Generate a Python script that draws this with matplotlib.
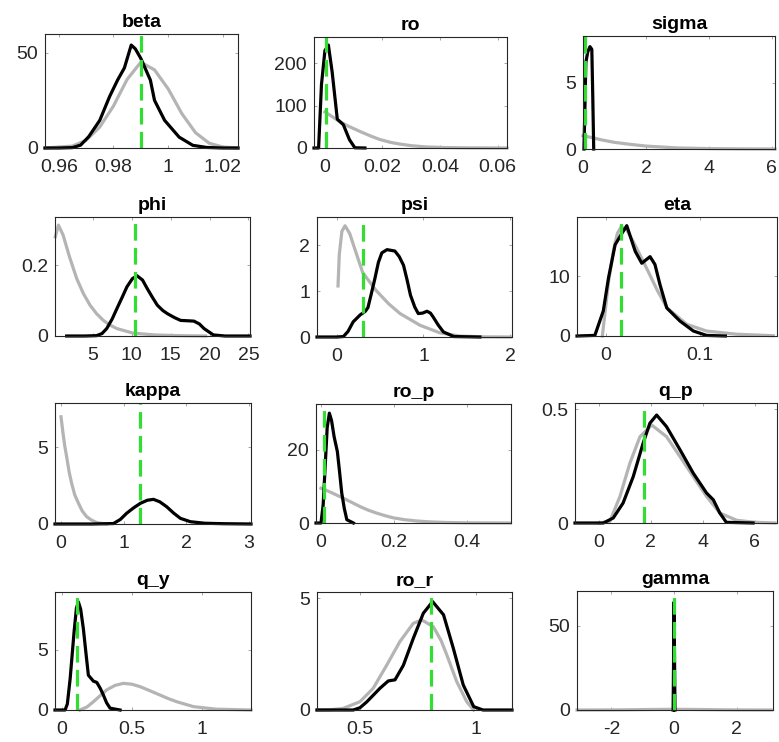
import matplotlib
matplotlib.use("Agg")
import matplotlib.pyplot as plt

plt.rcParams['font.family'] = ['Liberation Sans', 'DejaVu Sans']

# ---- data (prior = grey, posterior = black, mode = green) ----
names = ['beta', 'ro', 'sigma', 'phi', 'psi', 'eta',
         'kappa', 'ro_p', 'q_p', 'q_y', 'ro_r', 'gamma']

beta_prior_x = [0.955, 0.965, 0.970, 0.975, 0.980, 0.985, 0.990, 0.995, 1.000, 1.005, 1.010, 1.015, 1.020, 1.0255]
beta_prior_y = [0, 1, 4, 11, 22, 36, 45, 41, 31, 18, 8, 2.5, 0.5, 0]
beta_post_x = [0.955, 0.960, 0.965, 0.968, 0.971, 0.975, 0.9786, 0.9815, 0.984, 0.9865, 0.988, 0.990,
               0.9935, 0.995, 0.9987, 1.004, 1.009, 1.014, 1.020, 1.0255]
beta_post_y = [0, 0, 0.2, 1.5, 6, 14.5, 27, 35.6, 42, 54, 52, 47, 35.6, 25, 14.5, 5.7, 1.4, 0.3, 0, 0]
beta_mode = 0.990

ro_prior_x = [0, 0.003, 0.0052, 0.008, 0.0122, 0.016, 0.0191, 0.023, 0.026, 0.030, 0.0353, 0.042, 0.05, 0.0633]
ro_prior_y = [85, 72, 62, 52, 39, 28, 20, 13, 9.4, 5.5, 2.5, 1, 0.3, 0]
ro_post_x = [-0.0038, -0.0022, -0.0012, 0.0, 0.0012, 0.0025, 0.0043, 0.0064, 0.0085, 0.0104, 0.0139]
ro_post_y = [0, 0, 150, 230, 243, 180, 68, 55, 20, 0.5, 0]
ro_mode = 0.0005

sigma_prior_x = [0.0, 0.3, 0.6, 1.0, 1.5, 2.0, 3.0, 4.0, 5.0, 6.1]
sigma_prior_y = [1.0, 0.85, 0.68, 0.5, 0.35, 0.22, 0.08, 0.03, 0.01, 0]
sigma_post_x = [0.03, 0.06, 0.09, 0.15, 0.22, 0.28, 0.31, 0.34]
sigma_post_y = [0, 3, 6.5, 7.3, 7.7, 7.5, 4, 0]
sigma_mode = 0.05

phi_prior_x = [0.2, 0.6, 1.2, 2.0, 2.95, 3.8, 4.66, 5.5, 6.37, 7.2, 8.1, 10.2, 13, 16, 19.5]
phi_prior_y = [0.28, 0.313, 0.285, 0.225, 0.162, 0.12, 0.087, 0.063, 0.044, 0.031, 0.021, 0.008, 0.003, 0.001, 0]
phi_post_x = [1.66, 4.0, 5.5, 6.2, 6.8, 7.5, 8.1, 8.8, 9.4, 10.1, 10.7, 11.4, 12.0, 12.7, 13.3, 14.0,
              14.6, 15.5, 16.3, 17.2, 18.0, 18.7, 19.3, 20.5, 22, 25.2]
phi_post_y = [0, 0, 0.001, 0.007, 0.021, 0.048, 0.077, 0.11, 0.139, 0.162, 0.17, 0.158, 0.134, 0.108,
              0.087, 0.072, 0.063, 0.052, 0.044, 0.043, 0.042, 0.034, 0.021, 0.003, 0, 0]
phi_mode = 10.4

psi_prior_x = [0.015, 0.03, 0.06, 0.096, 0.15, 0.22, 0.30, 0.45, 0.60, 0.73, 0.96, 1.19, 1.42, 1.7, 2.0]
psi_prior_y = [1.11, 1.8, 2.3, 2.42, 2.25, 1.85, 1.4, 1.02, 0.72, 0.51, 0.255, 0.09, 0.02, 0.003, 0]
psi_post_x = [-0.227, 0.0, 0.077, 0.13, 0.19, 0.27, 0.33, 0.36, 0.40, 0.44, 0.48, 0.52, 0.58, 0.67,
              0.72, 0.77, 0.81, 0.85, 0.90, 0.94, 0.99, 1.04, 1.08, 1.11, 1.17, 1.23, 1.35, 1.65]
psi_post_y = [0, 0, 0.01, 0.12, 0.33, 0.48, 0.56, 0.64, 0.95, 1.27, 1.62, 1.83, 1.9, 1.87,
              1.75, 1.56, 1.25, 0.91, 0.65, 0.51, 0.52, 0.56, 0.52, 0.44, 0.26, 0.11, 0.01, 0]
psi_mode = 0.30

eta_prior_x = [-0.004, 0.0025, 0.008, 0.012, 0.016, 0.022, 0.030, 0.043, 0.055, 0.065, 0.086, 0.107, 0.139, 0.178]
eta_prior_y = [0, 9, 14.5, 17.2, 18.3, 17.8, 15.5, 11.4, 7.5, 4.7, 1.95, 0.83, 0.3, 0.05]
eta_post_x = [-0.031, -0.012, -0.003, 0.0025, 0.0096, 0.016, 0.022, 0.031, 0.038, 0.0468, 0.052,
              0.0574, 0.0646, 0.0787, 0.093, 0.107, 0.127]
eta_post_y = [0, 0.1, 4.2, 9.7, 15.3, 17, 18.5, 14.2, 12.2, 13.3, 12, 8.6, 4.7, 2.5, 0.83, 0.1, 0]
eta_mode = 0.0156

kappa_prior_x = [0.0, 0.03, 0.06, 0.09, 0.13, 0.17, 0.22, 0.28, 0.34, 0.41, 0.49, 0.57, 0.65, 0.73]
kappa_prior_y = [7.0, 6.0, 5.1, 4.4, 3.4, 2.66, 1.9, 1.35, 0.85, 0.48, 0.25, 0.1, 0.04, 0]
kappa_post_x = [-0.096, 0.5, 0.84, 0.95, 1.05, 1.16, 1.27, 1.38, 1.48, 1.58, 1.69, 1.80, 1.91, 2.07, 2.3, 2.6, 3.04]
kappa_post_y = [0, 0, 0.03, 0.3, 0.7, 1.05, 1.35, 1.55, 1.61, 1.45, 1.13, 0.72, 0.37, 0.15, 0.05, 0.02, 0]
kappa_mode = 1.27

ro_p_prior_x = [0.0, 0.011, 0.035, 0.061, 0.085, 0.107, 0.13, 0.153, 0.176, 0.199, 0.23, 0.263,
                0.30, 0.34, 0.40, 0.46, 0.52]
ro_p_prior_y = [9.5, 9.1, 8.0, 6.8, 5.6, 4.5, 3.5, 2.7, 2.0, 1.4, 0.9, 0.55, 0.3, 0.15, 0.05, 0.02, 0]
ro_p_post_x = [-0.0137, 0.0, 0.006, 0.011, 0.017, 0.023, 0.029, 0.036, 0.045, 0.051, 0.057, 0.064, 0.071, 0.089]
ro_p_post_y = [0, 0, 5, 14.5, 26, 30, 28, 23.6, 19.5, 14, 8.2, 4, 0.9, 0]
ro_p_mode = 0.008

q_p_prior_x = [0.0, 0.42, 0.81, 1.19, 1.58, 2.03, 2.6, 3.12, 3.63, 4.14, 4.65, 5.3, 6.0, 6.77]
q_p_prior_y = [0, 0.007, 0.117, 0.263, 0.38, 0.431, 0.38, 0.292, 0.204, 0.117, 0.044, 0.012, 0.003, 0]
q_p_post_x = [-0.92, 0.17, 0.55, 0.93, 1.32, 1.7, 1.96, 2.22, 2.6, 3.12, 3.63, 4.14, 4.4, 4.65, 4.9, 5.93]
q_p_post_y = [0, 0, 0.022, 0.088, 0.204, 0.351, 0.439, 0.475, 0.424, 0.322, 0.219, 0.132, 0.102, 0.044, 0.003, 0]
q_p_mode = 1.74

q_y_prior_x = [0.13, 0.18, 0.226, 0.27, 0.32, 0.38, 0.44, 0.50, 0.56, 0.63, 0.70, 0.76, 0.82, 0.94, 1.1, 1.35]
q_y_prior_y = [0, 0.25, 0.69, 1.15, 1.67, 2.05, 2.22, 2.15, 1.94, 1.6, 1.25, 0.95, 0.69, 0.28, 0.07, 0]
q_y_post_x = [-0.048, 0.024, 0.04, 0.06, 0.088, 0.105, 0.119, 0.135, 0.154, 0.175, 0.19, 0.226,
              0.25, 0.275, 0.297, 0.32, 0.345, 0.416]
q_y_post_y = [0, 0, 0.5, 2.6, 6.5, 8.5, 9.0, 8.4, 6.8, 4.5, 2.9, 2.4, 2.3, 1.8, 1.25, 0.6, 0.15, 0]
q_y_mode = 0.112

ro_r_prior_x = [0.315, 0.37, 0.427, 0.5, 0.557, 0.615, 0.672, 0.73, 0.766, 0.816, 0.85, 0.874, 0.917, 0.96, 0.99]
ro_r_prior_y = [0.0, 0.01, 0.07, 0.37, 0.97, 2.0, 3.06, 3.88, 4.03, 3.73, 3.1, 2.47, 1.27, 0.37, 0]
ro_r_post_x = [0.315, 0.471, 0.50, 0.53, 0.586, 0.622, 0.651, 0.687, 0.73, 0.773, 0.813, 0.86,
               0.902, 0.945, 0.99, 1.03, 1.155]
ro_r_post_y = [0, 0, 0.1, 0.37, 0.97, 1.3, 1.35, 2.0, 3.21, 4.33, 4.85, 4.26, 2.77, 1.12, 0.15, 0, 0]
ro_r_mode = 0.806

gamma_prior_x = [-3.1, -2.5, -2, -1.5, -1, -0.5, 0, 0.5, 1, 1.5, 2, 2.5, 3.1]
gamma_prior_y = [0.003, 0.018, 0.054, 0.13, 0.24, 0.35, 0.4, 0.35, 0.24, 0.13, 0.054, 0.018, 0.003]
gamma_post_x = [-0.03, -0.01, 0.0, 0.01, 0.03]
gamma_post_y = [0, 40, 64, 40, 0]
gamma_mode = 0.0

priors_x = [beta_prior_x, ro_prior_x, sigma_prior_x, phi_prior_x, psi_prior_x, eta_prior_x,
            kappa_prior_x, ro_p_prior_x, q_p_prior_x, q_y_prior_x, ro_r_prior_x, gamma_prior_x]
priors_y = [beta_prior_y, ro_prior_y, sigma_prior_y, phi_prior_y, psi_prior_y, eta_prior_y,
            kappa_prior_y, ro_p_prior_y, q_p_prior_y, q_y_prior_y, ro_r_prior_y, gamma_prior_y]
posts_x = [beta_post_x, ro_post_x, sigma_post_x, phi_post_x, psi_post_x, eta_post_x,
           kappa_post_x, ro_p_post_x, q_p_post_x, q_y_post_x, ro_r_post_x, gamma_post_x]
posts_y = [beta_post_y, ro_post_y, sigma_post_y, phi_post_y, psi_post_y, eta_post_y,
           kappa_post_y, ro_p_post_y, q_p_post_y, q_y_post_y, ro_r_post_y, gamma_post_y]
modes = [beta_mode, ro_mode, sigma_mode, phi_mode, psi_mode, eta_mode,
         kappa_mode, ro_p_mode, q_p_mode, q_y_mode, ro_r_mode, gamma_mode]

xlims = [(0.955, 1.0255), (-0.0038, 0.0633), (0, 6.1), (0.16, 25.2), (-0.227, 2.02), (-0.031, 0.182),
         (-0.096, 3.04), (-0.0137, 0.522), (-0.92, 6.85), (-0.048, 1.35), (0.315, 1.155), (-3.1, 3.16)]
ylims = [59.8, 262, 8.5, 0.336, 2.61, 19.95, 7.9, 32.5, 0.528, 9.83, 5.28, 70.6]

xticks = [[0.96, 0.98, 1, 1.02], [0, 0.02, 0.04, 0.06], [0, 2, 4, 6], [5, 10, 15, 20, 25], [0, 1, 2],
          [0, 0.1], [0, 1, 2, 3], [0, 0.2, 0.4], [0, 2, 4, 6], [0, 0.5, 1], [0.5, 1], [-2, 0, 2]]
xticklabels = [['0.96', '0.98', '1', '1.02'], ['0', '0.02', '0.04', '0.06'], ['0', '2', '4', '6'],
               ['5', '10', '15', '20', '25'], ['0', '1', '2'], ['0', '0.1'], ['0', '1', '2', '3'],
               ['0', '0.2', '0.4'], ['0', '2', '4', '6'], ['0', '0.5', '1'], ['0.5', '1'], ['-2', '0', '2']]
yticks = [[0, 50], [0, 100, 200], [0, 5], [0, 0.2], [0, 1, 2], [0, 10], [0, 5], [0, 20],
          [0, 0.5], [0, 5], [0, 5], [0, 50]]
yticklabels = [['0', '50'], ['0', '100', '200'], ['0', '5'], ['0', '0.2'], ['0', '1', '2'], ['0', '10'],
               ['0', '5'], ['0', '20'], ['0', '0.5'], ['0', '5'], ['0', '5'], ['0', '50']]

# axes boxes in pixels: left, right, top, bottom
boxes = [(45, 238, 34, 148), (314, 507, 37, 148), (583, 775, 36, 149),
         (55, 250, 217, 336), (317, 512, 217, 337), (577, 777, 217, 336),
         (55, 251, 403, 524), (316, 511, 404, 523), (575, 777, 403, 523),
         (55, 251, 592, 710), (317, 512, 592, 710), (577, 773, 591, 710)]

W, H = 779, 742
fig = plt.figure(figsize=(W / 100, H / 100), dpi=100)

for i in range(12):
    l, r, t, b = boxes[i]
    ax = fig.add_axes([l / W, 1 - b / H, (r - l) / W, (b - t) / H])
    ax.plot(priors_x[i], priors_y[i], color='#b4b4b4', lw=2.3, clip_on=False)
    ax.plot(posts_x[i], posts_y[i], color='black', lw=2.3, clip_on=False)
    ax.plot([modes[i], modes[i]], [0, ylims[i]], color='#33dd33', lw=2.3,
            linestyle=(0, (5.2, 2.3)), clip_on=False)
    ax.set_xlim(xlims[i])
    ax.set_ylim(0, ylims[i])
    ax.set_xticks(xticks[i])
    ax.set_xticklabels(xticklabels[i])
    ax.set_yticks(yticks[i])
    ax.set_yticklabels(yticklabels[i])
    ax.set_title(names[i], fontsize=14, fontweight='bold', pad=5)
    ax.tick_params(direction='in', length=2.5, width=0.6, color='#999999',
                   labelsize=14, labelcolor='#262626', top=True, right=True)
    ax.tick_params(axis='x', pad=8)
    ax.tick_params(axis='y', pad=5)
    for s in ax.spines.values():
        s.set_linewidth(0.8)
        s.set_color('#262626')

fig.savefig('out.png', dpi=100)
